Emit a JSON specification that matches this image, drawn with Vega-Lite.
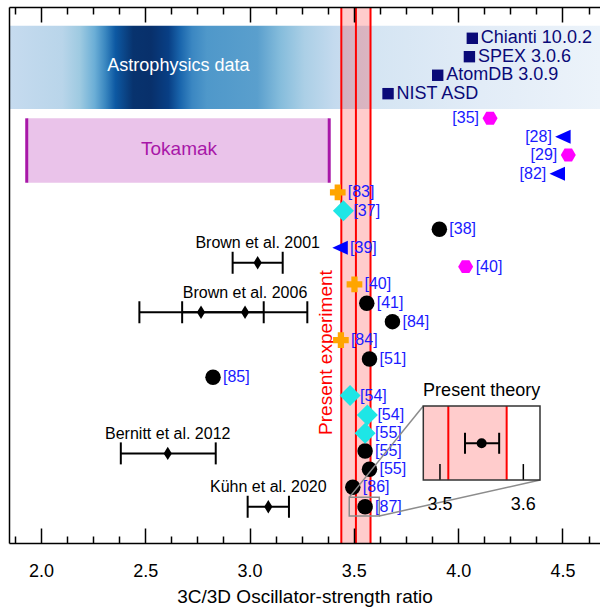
{
  "$schema": "https://vega.github.io/schema/vega-lite/v6.json",
  "width": 591,
  "height": 536,
  "autosize": {"type": "none"},
  "padding": {"left": 9, "top": 7, "right": 0, "bottom": 67},
  "background": "white",
  "config": {"view": {"stroke": null}, "font": "Liberation Sans", "axis": {"grid": false}},
  "datasets": {
    "regions": [
      {"name": "Astrophysics data", "lo": 1.847, "hi": 4.68},
      {"name": "Tokamak", "lo": 1.932, "hi": 3.382}
    ],
    "experiment": [{"name": "Present experiment", "lo": 3.44, "val": 3.51, "hi": 3.58}],
    "theory": [{"name": "Present theory", "x": 3.55, "lo": 3.53, "hi": 3.571}],
    "insetTicks": [{"t": 3.5}, {"t": 3.6}],
    "codes": [
      {"name": "Chianti 10.0.2", "x": 4.068, "row": 1.7},
      {"name": "SPEX 3.0.6", "x": 4.054, "row": 2.7},
      {"name": "AtomDB 3.0.9", "x": 3.902, "row": 3.71},
      {"name": "NIST ASD", "x": 3.664, "row": 4.71}
    ],
    "bars": [
      {"name": "Brown et al. 2001", "x": 3.039, "lo": 2.919, "hi": 3.159, "row": 13.9},
      {"name": "Brown et al. 2006", "x": 2.7675, "lo": 2.472, "hi": 3.068, "row": 16.59},
      {"name": "Brown et al. 2006", "x": 2.9785, "lo": 2.677, "hi": 3.277, "row": 16.59},
      {"name": "Bernitt et al. 2012", "x": 2.608, "lo": 2.383, "hi": 2.838, "row": 24.26},
      {"name": "Kühn et al. 2020", "x": 3.09, "lo": 2.991, "hi": 3.189, "row": 27.16}
    ],
    "refs": [
      {"ref": "[35]", "x": 4.153, "row": 6.05, "kind": "hexagon"},
      {"ref": "[28]", "x": 4.502, "row": 7.05, "kind": "triangle"},
      {"ref": "[29]", "x": 4.528, "row": 8.04, "kind": "hexagon"},
      {"ref": "[82]", "x": 4.475, "row": 9.06, "kind": "triangle"},
      {"ref": "[83]", "x": 3.423, "row": 10.07, "kind": "cross"},
      {"ref": "[37]", "x": 3.45, "row": 11.07, "kind": "diamond"},
      {"ref": "[38]", "x": 3.91, "row": 12.08, "kind": "circle"},
      {"ref": "[39]", "x": 3.434, "row": 13.08, "kind": "triangle"},
      {"ref": "[40]", "x": 4.036, "row": 14.11, "kind": "hexagon"},
      {"ref": "[40]", "x": 3.503, "row": 15.07, "kind": "cross"},
      {"ref": "[41]", "x": 3.562, "row": 16.1, "kind": "circle"},
      {"ref": "[84]", "x": 3.685, "row": 17.1, "kind": "circle"},
      {"ref": "[84]", "x": 3.438, "row": 18.1, "kind": "cross"},
      {"ref": "[51]", "x": 3.575, "row": 19.13, "kind": "circle"},
      {"ref": "[85]", "x": 2.825, "row": 20.12, "kind": "circle"},
      {"ref": "[54]", "x": 3.482, "row": 21.12, "kind": "diamond"},
      {"ref": "[54]", "x": 3.565, "row": 22.17, "kind": "diamond"},
      {"ref": "[55]", "x": 3.554, "row": 23.17, "kind": "diamond"},
      {"ref": "[55]", "x": 3.554, "row": 24.13, "kind": "circle"},
      {"ref": "[55]", "x": 3.575, "row": 25.12, "kind": "circle"},
      {"ref": "[86]", "x": 3.495, "row": 26.1, "kind": "circle"},
      {"ref": "[87]", "x": 3.554, "row": 27.16, "kind": "circle"}
    ]
  },
  "resolve": {"scale": {"x": "independent"}},
  "layer": [
    {
      "data": {"name": "regions"},
      "transform": [{"filter": "datum.name === 'Astrophysics data'"}],
      "mark": {
        "type": "rect",
        "color": {
          "gradient": "linear", "x1": 0, "y1": 0, "x2": 1, "y2": 0,
          "stops": [
            {"offset": 0, "color": "#c6dbef"},
            {"offset": 0.09, "color": "#b9d5ea"},
            {"offset": 0.12, "color": "#9ecae1"},
            {"offset": 0.145, "color": "#6baed6"},
            {"offset": 0.163, "color": "#3a87c0"},
            {"offset": 0.18, "color": "#0d59a3"},
            {"offset": 0.21, "color": "#08336e"},
            {"offset": 0.24, "color": "#08306b"},
            {"offset": 0.27, "color": "#083f85"},
            {"offset": 0.29, "color": "#1a66ad"},
            {"offset": 0.31, "color": "#3b87c2"},
            {"offset": 0.335, "color": "#4f98ca"},
            {"offset": 0.42, "color": "#5a9fcd"},
            {"offset": 0.46, "color": "#86bddc"},
            {"offset": 0.5, "color": "#abcfe6"},
            {"offset": 0.55, "color": "#c4daee"},
            {"offset": 0.62, "color": "#d5e5f3"},
            {"offset": 0.8, "color": "#e2ecf7"},
            {"offset": 1, "color": "#ecf3fa"}
          ]
        }
      },
      "encoding": {
        "x": {
          "field": "lo", "type": "quantitative",
          "scale": {"domain": [1.847, 4.68], "nice": false, "zero": false},
          "axis": {
            "orient": "bottom", "offset": -536, "labels": false, "title": null, "zindex": 1,
            "values": [2, 2.5, 3, 3.5, 4, 4.5],
            "tickSize": 15,
            "tickColor": "black", "tickWidth": 1.5, "domainColor": "black", "domainWidth": 1.5, "grid": false
          }
        },
        "x2": {"field": "hi"},
        "y": {
          "datum": 1.02, "type": "quantitative",
          "scale": {"domain": [0, 29.13], "reverse": true, "nice": false, "zero": false},
          "axis": {"orient": "left", "ticks": false, "labels": false, "title": null, "zindex": 1, "domainColor": "black", "domainWidth": 1.5, "grid": false}
        },
        "y2": {"datum": 5.54}
      }
    },
    {
      "data": {"name": "regions"},
      "transform": [{"filter": "datum.name === 'Tokamak'"}],
      "mark": {"type": "rect", "fill": "#eac3ea"},
      "encoding": {
        "x": {
          "field": "lo", "type": "quantitative",
          "scale": {"domain": [1.847, 4.68], "nice": false, "zero": false},
          "axis": {
            "orient": "bottom", "offset": -536, "labels": false, "title": null, "domain": false, "zindex": 1,
            "values": [1.875, 2.125, 2.25, 2.375, 2.625, 2.75, 2.875, 3.125, 3.25, 3.375, 3.625, 3.75, 3.875, 4.125, 4.25, 4.375, 4.625],
            "tickSize": 7, "tickColor": "black", "tickWidth": 1.5, "grid": false
          }
        },
        "x2": {"field": "hi"},
        "y": {"datum": 6.05, "type": "quantitative"},
        "y2": {"datum": 9.55}
      }
    },
    {
      "data": {"name": "regions"},
      "transform": [{"filter": "datum.name === 'Tokamak'"}, {"fold": ["lo", "hi"]}],
      "mark": {"type": "rule", "color": "#a817a8", "strokeWidth": 3},
      "encoding": {
        "x": {
          "field": "value", "type": "quantitative",
          "scale": {"domain": [1.847, 4.68], "nice": false, "zero": false},
          "axis": {
            "orient": "top", "offset": -536, "labels": false, "title": null, "domain": false, "zindex": 1,
            "values": [1.875, 2.125, 2.25, 2.375, 2.625, 2.75, 2.875, 3.125, 3.25, 3.375, 3.625, 3.75, 3.875, 4.125, 4.25, 4.375, 4.625],
            "tickSize": 7, "tickColor": "black", "tickWidth": 1.5, "grid": false
          }
        },
        "y": {"datum": 6.05, "type": "quantitative"},
        "y2": {"datum": 9.55}
      }
    },
    {
      "data": {"name": "regions"},
      "transform": [{"filter": "datum.name === 'Tokamak'"}],
      "mark": {"type": "text", "color": "#a817a8", "fontSize": 19},
      "encoding": {
        "x": {
          "datum": 2.662, "type": "quantitative",
          "scale": {"domain": [1.847, 4.68], "nice": false, "zero": false},
          "axis": {
            "orient": "top", "offset": -536, "labels": false, "title": null, "domain": false, "zindex": 1,
            "values": [2, 2.5, 3, 3.5, 4, 4.5],
            "tickSize": 15, "tickColor": "black", "tickWidth": 1.5, "grid": false
          }
        },
        "y": {"datum": 7.73, "type": "quantitative"},
        "text": {"field": "name"}
      }
    },
    {
      "layer": [
        {
          "data": {"name": "regions"},
          "transform": [{"filter": "datum.name === 'Astrophysics data'"}],
          "mark": {"type": "text", "color": "white", "fontSize": 18},
          "encoding": {
            "x": {
              "datum": 2.659, "type": "quantitative",
              "scale": {"domain": [1.847, 4.68], "nice": false, "zero": false},
              "axis": {
                "orient": "bottom",
                "values": [2, 2.5, 3, 3.5, 4, 4.5],
                "format": ".1f",
                "ticks": false, "zindex": 1,
                "domainColor": "black", "domainWidth": 1.5,
                "labelFontSize": 18, "labelColor": "black", "labelPadding": 19, "labelFlush": false, "labelOverlap": false,
                "title": "3C/3D Oscillator-strength ratio", "titleFontSize": 19, "titleFontWeight": "normal", "titleColor": "black", "titlePadding": 7,
                "grid": false
              }
            },
            "y": {"datum": 3.21, "type": "quantitative"},
            "text": {"field": "name"}
          }
        },
        {
          "data": {"name": "experiment"},
          "mark": {"type": "rect", "fill": "#ff0000", "opacity": 0.2},
          "encoding": {
            "x": {"field": "lo", "type": "quantitative"},
            "x2": {"field": "hi"},
            "y": {"datum": 0, "type": "quantitative"},
            "y2": {"datum": 29.13}
          }
        },
        {
          "data": {"name": "experiment"},
          "transform": [{"fold": ["lo", "val", "hi"]}],
          "mark": {"type": "rule", "color": "#ff0000", "strokeWidth": 2},
          "encoding": {"x": {"field": "value", "type": "quantitative"}}
        },
        {
          "data": {"name": "experiment"},
          "mark": {"type": "text", "color": "#ff0000", "fontSize": 19, "angle": 270},
          "encoding": {
            "x": {"datum": 3.367, "type": "quantitative"},
            "y": {"datum": 18.78, "type": "quantitative"},
            "text": {"field": "name"}
          }
        },
        {
          "data": {"name": "bars"},
          "mark": {"type": "rule", "color": "black", "strokeWidth": 2},
          "encoding": {
            "x": {"field": "lo", "type": "quantitative"},
            "x2": {"field": "hi"},
            "y": {"field": "row", "type": "quantitative"}
          }
        },
        {
          "data": {"name": "bars"},
          "transform": [{"fold": ["lo", "hi"]}],
          "mark": {"type": "tick", "orient": "vertical", "size": 22, "thickness": 2, "color": "black", "opacity": 1},
          "encoding": {
            "x": {"field": "value", "type": "quantitative"},
            "y": {"field": "row", "type": "quantitative"}
          }
        },
        {
          "data": {"name": "bars"},
          "mark": {"type": "point", "shape": "M0,-1L0.62,0L0,1L-0.62,0Z", "filled": true, "color": "black", "opacity": 1, "size": 177},
          "encoding": {
            "x": {"field": "x", "type": "quantitative"},
            "y": {"field": "row", "type": "quantitative"}
          }
        },
        {
          "data": {"name": "bars"},
          "transform": [{"aggregate": [{"op": "max", "field": "x", "as": "x"}, {"op": "max", "field": "row", "as": "row"}], "groupby": ["name"]}],
          "mark": {"type": "text", "color": "black", "fontSize": 16, "dy": -19.5},
          "encoding": {
            "x": {"field": "x", "type": "quantitative"},
            "y": {"field": "row", "type": "quantitative"},
            "text": {"field": "name"}
          }
        },
        {
          "data": {"name": "codes"},
          "mark": {"type": "point", "shape": "square", "filled": true, "color": "#0a0a78", "opacity": 1, "size": 130},
          "encoding": {
            "x": {"field": "x", "type": "quantitative"},
            "y": {"field": "row", "type": "quantitative"}
          }
        },
        {
          "data": {"name": "codes"},
          "mark": {"type": "text", "color": "#0a0a78", "fontSize": 18, "align": "left", "dx": 8.5},
          "encoding": {
            "x": {"field": "x", "type": "quantitative"},
            "y": {"field": "row", "type": "quantitative"},
            "text": {"field": "name"}
          }
        },
        {
          "data": {"name": "refs"},
          "transform": [{"filter": "datum.kind === 'circle'"}],
          "mark": {"type": "point", "shape": "circle", "filled": true, "color": "black", "opacity": 1, "size": 240},
          "encoding": {"x": {"field": "x", "type": "quantitative"}, "y": {"field": "row", "type": "quantitative"}}
        },
        {
          "data": {"name": "refs"},
          "transform": [{"filter": "datum.kind === 'diamond'"}],
          "mark": {"type": "point", "shape": "diamond", "filled": true, "color": "#1ee6e6", "opacity": 1, "size": 441},
          "encoding": {"x": {"field": "x", "type": "quantitative"}, "y": {"field": "row", "type": "quantitative"}}
        },
        {
          "data": {"name": "refs"},
          "transform": [{"filter": "datum.kind === 'cross'"}],
          "mark": {"type": "point", "shape": "cross", "filled": true, "color": "#ffa500", "opacity": 1, "size": 246},
          "encoding": {"x": {"field": "x", "type": "quantitative"}, "y": {"field": "row", "type": "quantitative"}}
        },
        {
          "data": {"name": "refs"},
          "transform": [{"filter": "datum.kind === 'triangle'"}],
          "mark": {"type": "point", "shape": "M-1,0L1,-0.9L1,0.9Z", "filled": true, "color": "#0000ff", "opacity": 1, "size": 240},
          "encoding": {"x": {"field": "x", "type": "quantitative"}, "y": {"field": "row", "type": "quantitative"}}
        },
        {
          "data": {"name": "refs"},
          "transform": [{"filter": "datum.kind === 'hexagon'"}],
          "mark": {"type": "point", "shape": "M-1,0L-0.5,-0.866L0.5,-0.866L1,0L0.5,0.866L-0.5,0.866Z", "filled": true, "color": "#ff00ff", "opacity": 1, "size": 225},
          "encoding": {"x": {"field": "x", "type": "quantitative"}, "y": {"field": "row", "type": "quantitative"}}
        },
        {
          "data": {"name": "refs"},
          "transform": [{"filter": "datum.x < 4.1"}],
          "mark": {"type": "text", "color": "#1a1aff", "fontSize": 16, "align": "left", "dx": 10},
          "encoding": {"x": {"field": "x", "type": "quantitative"}, "y": {"field": "row", "type": "quantitative"}, "text": {"field": "ref"}}
        },
        {
          "data": {"name": "refs"},
          "transform": [{"filter": "datum.x >= 4.1"}],
          "mark": {"type": "text", "color": "#1a1aff", "fontSize": 16, "align": "right", "dx": -11},
          "encoding": {"x": {"field": "x", "type": "quantitative"}, "y": {"field": "row", "type": "quantitative"}, "text": {"field": "ref"}}
        },
        {
          "data": {"name": "theory"},
          "mark": {"type": "rect", "fill": "transparent", "stroke": "#8c8c8c", "strokeWidth": 1.5},
          "encoding": {
            "x": {"datum": 3.478, "type": "quantitative"},
            "x2": {"datum": 3.622},
            "y": {"datum": 26.65, "type": "quantitative"},
            "y2": {"datum": 27.66}
          }
        },
        {
          "data": {"name": "theory"},
          "mark": {"type": "rule", "color": "#8c8c8c", "strokeWidth": 1.5},
          "encoding": {
            "x": {"datum": 3.478, "type": "quantitative"},
            "x2": {"datum": 3.833},
            "y": {"datum": 26.65, "type": "quantitative"},
            "y2": {"datum": 21.685}
          }
        },
        {
          "data": {"name": "theory"},
          "mark": {"type": "rule", "color": "#8c8c8c", "strokeWidth": 1.5},
          "encoding": {
            "x": {"datum": 3.622, "type": "quantitative"},
            "x2": {"datum": 4.393},
            "y": {"datum": 27.66, "type": "quantitative"},
            "y2": {"datum": 25.71}
          }
        }
      ]
    },
    {
      "layer": [
        {
          "data": {"name": "experiment"},
          "mark": {"type": "rect", "fill": "#ff0000", "opacity": 0.2},
          "encoding": {
            "x": {"field": "lo", "type": "quantitative", "scale": {"domain": [3.48, 3.62], "range": [414.3, 531], "clamp": true, "nice": false, "zero": false}, "axis": null},
            "x2": {"field": "hi"},
            "y": {"datum": 21.685, "type": "quantitative"},
            "y2": {"datum": 25.71}
          }
        },
        {
          "data": {"name": "experiment"},
          "transform": [{"fold": ["val", "hi"]}],
          "mark": {"type": "rule", "color": "#ff0000", "strokeWidth": 2},
          "encoding": {
            "x": {"field": "value", "type": "quantitative", "axis": null},
            "y": {"datum": 21.685, "type": "quantitative"},
            "y2": {"datum": 25.71}
          }
        },
        {
          "data": {"name": "insetTicks"},
          "mark": {"type": "rule", "color": "black", "strokeWidth": 1.5},
          "encoding": {
            "x": {"field": "t", "type": "quantitative", "axis": null},
            "y": {"datum": 24.84, "type": "quantitative"},
            "y2": {"datum": 25.71}
          }
        },
        {
          "data": {"name": "insetTicks"},
          "mark": {"type": "text", "color": "black", "fontSize": 18},
          "encoding": {
            "x": {"field": "t", "type": "quantitative", "axis": null},
            "y": {"datum": 27.07, "type": "quantitative"},
            "text": {"field": "t", "type": "quantitative", "format": ".1f"}
          }
        },
        {
          "data": {"name": "theory"},
          "mark": {"type": "rect", "fill": "transparent", "stroke": "#333333", "strokeWidth": 1.5},
          "encoding": {
            "x": {"datum": 3.48, "type": "quantitative", "axis": null},
            "x2": {"datum": 3.62},
            "y": {"datum": 21.685, "type": "quantitative"},
            "y2": {"datum": 25.71}
          }
        },
        {
          "data": {"name": "theory"},
          "mark": {"type": "rule", "color": "black", "strokeWidth": 2},
          "encoding": {
            "x": {"field": "lo", "type": "quantitative", "axis": null},
            "x2": {"field": "hi"},
            "y": {"datum": 23.71, "type": "quantitative"}
          }
        },
        {
          "data": {"name": "theory"},
          "transform": [{"fold": ["lo", "hi"]}],
          "mark": {"type": "tick", "orient": "vertical", "size": 21, "thickness": 2, "color": "black", "opacity": 1},
          "encoding": {
            "x": {"field": "value", "type": "quantitative", "axis": null},
            "y": {"datum": 23.71, "type": "quantitative"}
          }
        },
        {
          "data": {"name": "theory"},
          "mark": {"type": "point", "shape": "circle", "filled": true, "color": "black", "opacity": 1, "size": 100},
          "encoding": {
            "x": {"field": "x", "type": "quantitative", "axis": null},
            "y": {"datum": 23.71, "type": "quantitative"}
          }
        },
        {
          "data": {"name": "theory"},
          "mark": {"type": "text", "color": "black", "fontSize": 18},
          "encoding": {
            "x": {"field": "x", "type": "quantitative", "axis": null},
            "y": {"datum": 20.85, "type": "quantitative"},
            "text": {"field": "name"}
          }
        }
      ]
    }
  ]
}
